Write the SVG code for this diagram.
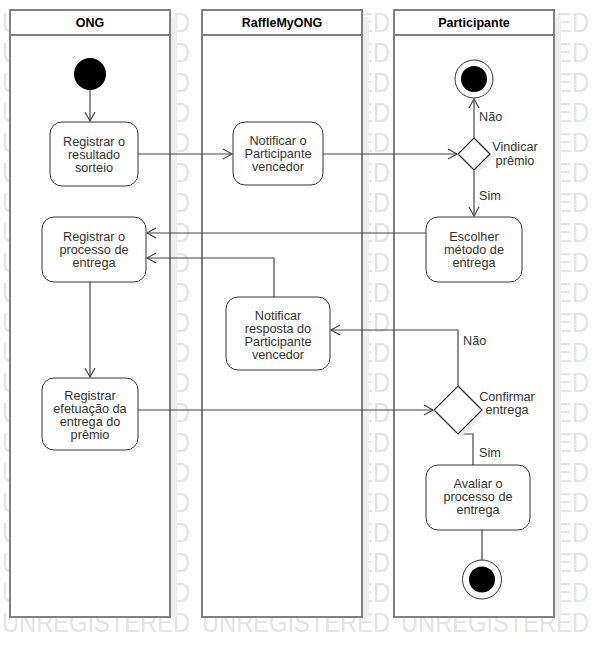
<svg xmlns="http://www.w3.org/2000/svg" xmlns:xlink="http://www.w3.org/1999/xlink" width="594" height="658" viewBox="0 0 594 658">
<style>
.wm{font-family:"Liberation Sans",Arial,sans-serif;font-size:27px;fill:#e4e4e4}
.lane{fill:#fff;stroke:#808080;stroke-width:2}
.shadow{fill:#efefef}
.hdr{font-family:"Liberation Sans",Arial,sans-serif;font-size:12.5px;font-weight:bold;fill:#000;text-anchor:middle}
.node{fill:#fff;stroke:#333;stroke-width:1}
.t{font-family:"Liberation Sans",Arial,sans-serif;font-size:12.7px;fill:#333;text-anchor:middle}
.lbl{font-family:"Liberation Sans",Arial,sans-serif;font-size:12.7px;fill:#333}
.c{fill:none;stroke:#444;stroke-width:1.2}
</style>
<defs>
<marker id="arr" markerUnits="userSpaceOnUse" markerWidth="12" markerHeight="12" refX="9" refY="5" orient="auto" overflow="visible">
<path d="M0,0 L9,5 L0,10" fill="none" stroke="#444" stroke-width="1.2"/>
</marker>
<g id="wmrow">
<text class="wm" x="2" textLength="188" lengthAdjust="spacingAndGlyphs">UNREGISTERED</text>
<text class="wm" x="202" textLength="188" lengthAdjust="spacingAndGlyphs">UNREGISTERED</text>
<text class="wm" x="401" textLength="188" lengthAdjust="spacingAndGlyphs">UNREGISTERED</text>
</g>
</defs>
<rect width="594" height="658" fill="#fff"/>
<g id="watermark">
<use xlink:href="#wmrow" y="32"/><use xlink:href="#wmrow" y="62"/><use xlink:href="#wmrow" y="92"/>
<use xlink:href="#wmrow" y="122"/><use xlink:href="#wmrow" y="152"/><use xlink:href="#wmrow" y="182"/>
<use xlink:href="#wmrow" y="212"/><use xlink:href="#wmrow" y="242"/><use xlink:href="#wmrow" y="272"/>
<use xlink:href="#wmrow" y="302"/><use xlink:href="#wmrow" y="332"/><use xlink:href="#wmrow" y="362"/>
<use xlink:href="#wmrow" y="392"/><use xlink:href="#wmrow" y="422"/><use xlink:href="#wmrow" y="452"/>
<use xlink:href="#wmrow" y="482"/><use xlink:href="#wmrow" y="512"/><use xlink:href="#wmrow" y="542"/>
<use xlink:href="#wmrow" y="572"/><use xlink:href="#wmrow" y="602"/><use xlink:href="#wmrow" y="632"/>
</g>
<g id="lane-ong">
<rect class="shadow" x="171" y="17" width="6" height="600"/>
<rect class="lane" x="10" y="10" width="160" height="607"/>
<line x1="10" y1="35" x2="170" y2="35" stroke="#808080" stroke-width="2"/>
<text class="hdr" x="90" y="27">ONG</text>
</g>
<g id="lane-raffle">
<rect class="shadow" x="363" y="17" width="6" height="600"/>
<rect class="lane" x="202" y="10" width="160" height="607"/>
<line x1="202" y1="35" x2="362" y2="35" stroke="#808080" stroke-width="2"/>
<text class="hdr" x="282" y="27">RaffleMyONG</text>
</g>
<g id="lane-participante">
<rect class="shadow" x="555" y="17" width="6" height="600"/>
<rect class="lane" x="394" y="10" width="160" height="607"/>
<line x1="394" y1="35" x2="554" y2="35" stroke="#808080" stroke-width="2"/>
<text class="hdr" x="474" y="27">Participante</text>
</g>
<g id="connectors">
<path class="c" d="M90,90 L90,121" marker-end="url(#arr)"/>
<path class="c" d="M138,154 L232,154" marker-end="url(#arr)"/>
<path class="c" d="M323,154 L457,154" marker-end="url(#arr)"/>
<path class="c" d="M474,138 L474,99" marker-end="url(#arr)"/>
<path class="c" d="M474,170 L474,216" marker-end="url(#arr)"/>
<path class="c" d="M426,233 L147,233" marker-end="url(#arr)"/>
<path class="c" d="M274,297 L274,258 L147,258" marker-end="url(#arr)"/>
<path class="c" d="M458,386 L458,330 L331,330" marker-end="url(#arr)"/>
<path class="c" d="M138,410 L433,410" marker-end="url(#arr)"/>
<path class="c" d="M458,434 L473,434 L473,465"/>
<path class="c" d="M90,282 L90,377" marker-end="url(#arr)"/>
<path class="c" d="M482,530 L482,560"/>
<text class="lbl" x="479" y="121">Não</text>
<text class="lbl" x="479" y="200">Sim</text>
<text class="lbl" x="463" y="345">Não</text>
<text class="lbl" x="479" y="457">Sim</text>
</g>
<g id="start">
<circle cx="90" cy="74" r="16" fill="#000"/>
</g>
<g id="registrar-resultado">
<rect class="node" x="50" y="122" width="88" height="64" rx="12"/>
<text class="t" x="94" y="145.5">Registrar o</text>
<text class="t" x="94" y="158.5">resultado</text>
<text class="t" x="94" y="171.5">sorteio</text>
</g>
<g id="notificar-participante">
<rect class="node" x="233" y="122" width="90" height="63" rx="12"/>
<text class="t" x="278" y="145">Notificar o</text>
<text class="t" x="278" y="158">Participante</text>
<text class="t" x="278" y="171">vencedor</text>
</g>
<g id="final-top">
<circle cx="474" cy="79" r="19" fill="#fff" stroke="#333" stroke-width="1"/>
<circle cx="474" cy="79" r="13" fill="#000"/>
</g>
<g id="vindicar">
<polygon points="477,141 493,157 477,173 461,157" fill="#ececec"/>
<polygon points="474,138 490,154 474,170 458,154" fill="#fff" stroke="#222" stroke-width="1.2"/>
<text class="t" x="515" y="151">Vindicar</text>
<text class="t" x="515" y="165">prêmio</text>
</g>
<g id="escolher">
<rect class="node" x="426" y="217" width="96" height="65" rx="12"/>
<text class="t" x="474" y="240.5">Escolher</text>
<text class="t" x="474" y="253.5">método de</text>
<text class="t" x="474" y="266.5">entrega</text>
</g>
<g id="registrar-processo">
<rect class="node" x="42" y="217" width="104" height="65" rx="12"/>
<text class="t" x="94" y="240.5">Registrar o</text>
<text class="t" x="94" y="253.5">processo de</text>
<text class="t" x="94" y="266.5">entrega</text>
</g>
<g id="notificar-resposta">
<rect class="node" x="226" y="297" width="104" height="73" rx="12"/>
<text class="t" x="278" y="320">Notificar</text>
<text class="t" x="278" y="333">resposta do</text>
<text class="t" x="278" y="346">Participante</text>
<text class="t" x="278" y="359">vencedor</text>
</g>
<g id="registrar-efetuacao">
<rect class="node" x="42" y="378" width="96" height="72" rx="12"/>
<text class="t" x="90" y="400">Registrar</text>
<text class="t" x="90" y="413">efetuação da</text>
<text class="t" x="90" y="426">entrega do</text>
<text class="t" x="90" y="439">prêmio</text>
</g>
<g id="confirmar">
<polygon points="461,389 485,413 461,437 437,413" fill="#ececec"/>
<polygon points="458,386 482,410 458,434 434,410" fill="#fff" stroke="#222" stroke-width="1.2"/>
<text class="t" x="507" y="401">Confirmar</text>
<text class="t" x="507" y="414">entrega</text>
</g>
<g id="avaliar">
<rect class="node" x="426" y="465" width="104" height="65" rx="12"/>
<text class="t" x="478" y="488">Avaliar o</text>
<text class="t" x="478" y="501">processo de</text>
<text class="t" x="478" y="514">entrega</text>
</g>
<g id="final-bottom">
<circle cx="482" cy="579.5" r="19.5" fill="#fff" stroke="#333" stroke-width="1"/>
<circle cx="482" cy="579.5" r="13" fill="#000"/>
</g>
</svg>
